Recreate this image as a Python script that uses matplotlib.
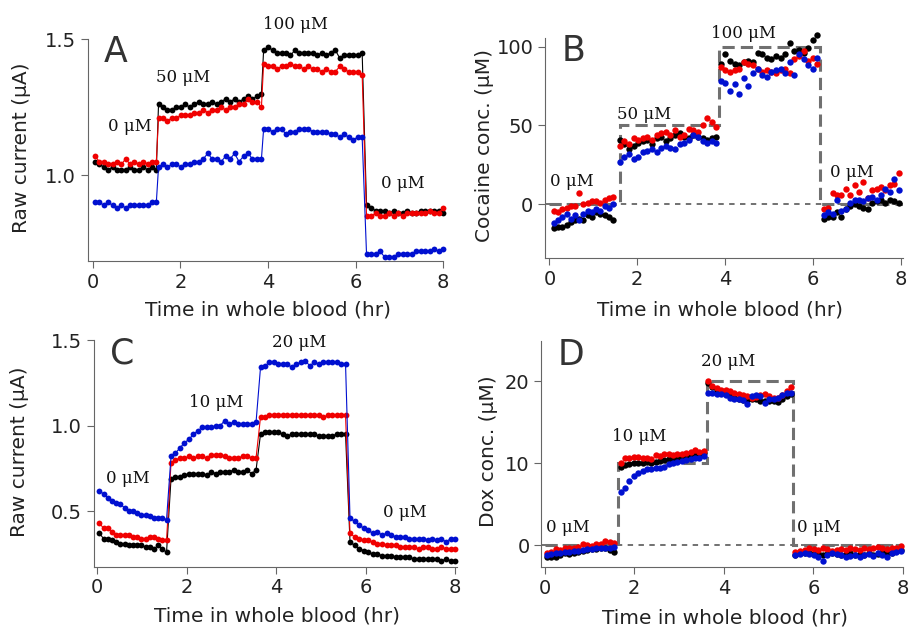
import numpy as np
import matplotlib.pyplot as plt

# ---- Panel A: raw current, cocaine sensor (uA) ----
a_segments = [(0.05, 1.45), (1.5, 3.85), (3.9, 6.15), (6.25, 8.0)]
a_black = [
    [1.05, 1.04, 1.03, 1.02, 1.03, 1.02, 1.02, 1.02, 1.03, 1.02, 1.02, 1.03, 1.02, 1.03, 1.02],
    [1.26, 1.25, 1.24, 1.24, 1.25, 1.25, 1.26, 1.25, 1.26, 1.27, 1.26, 1.26, 1.27, 1.26, 1.27, 1.28,
     1.27, 1.28, 1.27, 1.28, 1.29, 1.28, 1.29, 1.30],
    [1.46, 1.47, 1.46, 1.45, 1.45, 1.45, 1.44, 1.46, 1.45, 1.45, 1.45, 1.45, 1.44, 1.45, 1.44, 1.45,
     1.46, 1.43, 1.44, 1.44, 1.44, 1.44, 1.45],
    [0.89, 0.88, 0.87, 0.87, 0.87, 0.86, 0.87, 0.86, 0.86, 0.87, 0.86, 0.86, 0.87, 0.87, 0.87, 0.87,
     0.87, 0.86],
]
a_red = [
    [1.07, 1.05, 1.05, 1.04, 1.04, 1.05, 1.04, 1.06, 1.04, 1.05, 1.04, 1.05, 1.04, 1.05, 1.05],
    [1.21, 1.21, 1.20, 1.21, 1.21, 1.22, 1.22, 1.22, 1.23, 1.23, 1.24, 1.23, 1.24, 1.24, 1.25, 1.24,
     1.25, 1.25, 1.26, 1.26, 1.28, 1.27, 1.27, 1.25],
    [1.41, 1.40, 1.40, 1.39, 1.40, 1.40, 1.41, 1.40, 1.40, 1.39, 1.40, 1.39, 1.39, 1.38, 1.39, 1.38,
     1.38, 1.40, 1.39, 1.38, 1.38, 1.38, 1.37],
    [0.85, 0.85, 0.86, 0.85, 0.85, 0.86, 0.85, 0.86, 0.85, 0.86, 0.86, 0.86, 0.86, 0.86, 0.87, 0.86,
     0.86, 0.88],
]
a_blue = [
    [0.90, 0.90, 0.89, 0.90, 0.89, 0.88, 0.89, 0.88, 0.89, 0.89, 0.89, 0.89, 0.89, 0.90, 0.90],
    [1.03, 1.04, 1.03, 1.04, 1.04, 1.03, 1.04, 1.04, 1.05, 1.05, 1.06, 1.08, 1.06, 1.06, 1.05, 1.07,
     1.06, 1.08, 1.05, 1.07, 1.08, 1.06, 1.06, 1.06],
    [1.17, 1.17, 1.16, 1.17, 1.17, 1.15, 1.16, 1.16, 1.17, 1.17, 1.17, 1.16, 1.16, 1.16, 1.16, 1.15,
     1.15, 1.14, 1.15, 1.14, 1.13, 1.14, 1.14],
    [0.71, 0.71, 0.71, 0.72, 0.70, 0.70, 0.70, 0.71, 0.71, 0.71, 0.71, 0.72, 0.72, 0.72, 0.72, 0.73,
     0.72, 0.73],
]
a_labels = [(0.85, 1.18, '0 μM'), (2.06, 1.36, '50 μM'), (4.62, 1.555, '100 μM'), (7.08, 0.97, '0 μM')]

# ---- Panel B: cocaine concentration (uM) ----
b_segments = [(0.1, 1.45), (1.6, 3.8), (3.9, 6.1), (6.25, 7.95)]
b_black = [
    [-15, -14, -14, -13, -11, -10, -9, -10, -7, -8, -5, -6, -7, -8, -10],
    [41, 38, 35, 37, 39, 40, 41, 38, 42, 43, 40, 42, 44, 45, 43, 42, 44, 43, 42, 41, 42, 43],
    [89, 95, 91, 89, 88, 90, 91, 90, 96, 95, 93, 92, 94, 93, 95, 102, 97, 98, 96, 99, 104, 107],
    [-9, -8, -8, -5, -8, -3, -1, 0, -1, -2, -3, 1, 2, 3, 1, 3, 2, 1],
]
b_red = [
    [-4, -5, -3, -2, -1, -1, 7, 0, 1, 2, 2, 1, 3, 4, 5],
    [37, 40, 38, 42, 41, 42, 43, 41, 44, 45, 46, 44, 47, 43, 44, 48, 47, 46, 50, 55, 52, 49],
    [87, 85, 84, 85, 86, 90, 89, 88, 86, 84, 85, 84, 83, 85, 86, 83, 92, 94, 97, 91, 93, 89],
    [-3, -2, 7, 6, 6, 10, 6, 12, 8, 14, 4, 9, 10, 11, 9, 12, 13, 20],
]
b_blue = [
    [-12, -10, -8, -6, -9, -7, -10, -6, -4, -5, -3, -4, -1, -2, 0],
    [27, 30, 32, 29, 30, 33, 34, 35, 33, 36, 37, 36, 35, 38, 39, 41, 44, 43, 40, 39, 40, 39],
    [78, 77, 72, 76, 70, 80, 75, 83, 86, 82, 81, 84, 85, 86, 83, 90, 82, 95, 92, 88, 86, 93],
    [-7, -5, -6, 3, -4, -3, 1, 3, 3, 2, 4, 5, 3, 6, 10, 8, 16, 9],
]
b_edges = [0, 1.6, 3.85, 6.15, 8.05]
b_levels = [0, 50, 100, 0]
b_labels = [(0.51, 14.6, '0 μM'), (2.16, 56.8, '50 μM'), (4.43, 108.5, '100 μM'), (6.88, 20.5, '0 μM')]

# ---- Panel C: raw current, dox sensor (uA) ----
c_segments = [(0.05, 1.55), (1.65, 3.55), (3.65, 5.55), (5.65, 8.0)]
c_black = [
    [0.37, 0.34, 0.34, 0.33, 0.32, 0.31, 0.31, 0.30, 0.30, 0.30, 0.30, 0.29, 0.29, 0.28, 0.30, 0.28, 0.26],
    [0.69, 0.70, 0.70, 0.71, 0.72, 0.72, 0.72, 0.72, 0.71, 0.73, 0.72, 0.73, 0.73, 0.73, 0.74, 0.73,
     0.73, 0.74, 0.72, 0.74],
    [0.95, 0.96, 0.96, 0.96, 0.96, 0.95, 0.94, 0.95, 0.95, 0.95, 0.95, 0.95, 0.95, 0.94, 0.94, 0.94,
     0.94, 0.95, 0.95, 0.95],
    [0.32, 0.30, 0.28, 0.27, 0.26, 0.25, 0.25, 0.24, 0.24, 0.24, 0.23, 0.23, 0.23, 0.23, 0.22, 0.22,
     0.22, 0.22, 0.22, 0.22, 0.21, 0.22, 0.21, 0.21],
]
c_red = [
    [0.43, 0.40, 0.40, 0.38, 0.36, 0.36, 0.36, 0.36, 0.35, 0.35, 0.34, 0.34, 0.35, 0.35, 0.34, 0.33, 0.33],
    [0.78, 0.80, 0.81, 0.81, 0.82, 0.81, 0.82, 0.82, 0.81, 0.83, 0.83, 0.83, 0.82, 0.81, 0.81, 0.81,
     0.82, 0.82, 0.81, 0.81],
    [1.05, 1.05, 1.06, 1.06, 1.06, 1.06, 1.06, 1.06, 1.06, 1.06, 1.06, 1.06, 1.06, 1.06, 1.05, 1.06,
     1.06, 1.06, 1.06, 1.06],
    [0.37, 0.35, 0.34, 0.33, 0.33, 0.32, 0.31, 0.31, 0.30, 0.30, 0.30, 0.29, 0.29, 0.29, 0.29, 0.28,
     0.29, 0.29, 0.28, 0.28, 0.29, 0.28, 0.28, 0.28],
]
c_blue = [
    [0.62, 0.60, 0.58, 0.56, 0.55, 0.54, 0.52, 0.50, 0.50, 0.49, 0.48, 0.48, 0.47, 0.46, 0.46, 0.46, 0.45],
    [0.82, 0.84, 0.87, 0.90, 0.92, 0.95, 0.97, 0.99, 0.99, 0.99, 1.00, 1.00, 1.03, 1.01, 1.02, 1.01,
     1.01, 1.01, 1.01, 1.02],
    [1.34, 1.35, 1.37, 1.37, 1.36, 1.36, 1.36, 1.34, 1.36, 1.37, 1.38, 1.35, 1.37, 1.36, 1.37, 1.37,
     1.37, 1.37, 1.36, 1.36],
    [0.46, 0.44, 0.42, 0.40, 0.39, 0.37, 0.38, 0.36, 0.37, 0.36, 0.35, 0.35, 0.35, 0.34, 0.34, 0.34,
     0.34, 0.33, 0.34, 0.33, 0.34, 0.32, 0.34, 0.34],
]
c_labels = [(0.68, 0.693, '0 μM'), (2.66, 1.135, '10 μM'), (4.51, 1.486, '20 μM'), (6.87, 0.49, '0 μM')]

# ---- Panel D: dox concentration (uM) ----
d_segments = [(0.05, 1.55), (1.7, 3.55), (3.65, 5.5), (5.6, 7.95)]
d_black = [
    [-1.5, -1.4, -1.5, -1.2, -1.0, -1.1, -0.9, -0.8, -0.7, -0.6, -0.5, -0.5, -0.3, -0.4, -0.6, -0.8],
    [9.6, 9.8, 9.9, 10.0, 10.1, 10.0, 10.2, 10.1, 10.2, 10.3, 10.4, 10.5, 10.6, 10.6, 10.7, 10.8,
     10.9, 11.0, 11.0, 11.3],
    [19.8, 19.3, 19.0, 18.8, 18.5, 18.3, 18.0, 17.9, 17.7, 17.7, 17.8, 17.8, 17.6, 17.6, 17.6, 17.6,
     17.5, 17.8, 18.2, 18.5],
    [-1.2, -1.0, -0.9, -1.0, -1.1, -1.0, -1.2, -1.1, -1.0, -1.1, -1.2, -1.1, -1.0, -1.2, -1.1, -1.2,
     -1.0, -1.2, -1.1, -0.8, -1.0, -0.9, -0.7, -0.6],
]
d_red = [
    [-1.0, -0.8, -0.5, -0.6, -0.4, -0.4, -0.3, -0.2, 0.1, 0.0, -0.1, 0.1, 0.2, 0.5, 0.4, 0.3],
    [10.1, 10.7, 10.7, 10.8, 10.8, 10.7, 10.6, 10.5, 11.0, 10.9, 11.1, 11.1, 11.0, 11.2, 11.2, 11.3,
     11.4, 11.6, 11.4, 11.5],
    [20.1, 19.5, 19.2, 19.0, 19.0, 18.8, 18.6, 18.5, 18.3, 18.2, 18.0, 18.1, 18.3, 18.5, 18.2, 18.0,
     18.0, 18.3, 18.8, 19.3],
    [-0.8, -0.7, -0.6, -0.4, -0.5, -0.6, -0.4, -0.5, -0.7, -0.6, -0.5, -0.6, -0.4, -0.5, -0.6, -0.3,
     -0.5, -0.4, -0.2, -0.4, -0.5, -0.3, -0.4, -0.1],
]
d_blue = [
    [-1.2, -1.1, -1.0, -0.9, -0.8, -0.8, -0.7, -0.7, -0.6, -0.5, -0.5, -0.4, -0.3, -0.4, -0.3, -0.2],
    [6.5, 7.0, 7.8, 8.4, 8.8, 9.1, 9.3, 9.3, 9.4, 9.4, 9.6, 9.9, 10.1, 10.2, 10.3, 10.4, 10.5, 10.6,
     10.7, 10.9],
    [18.6, 18.6, 18.5, 18.5, 18.4, 18.0, 17.8, 17.9, 17.7, 17.2, 18.2, 18.3, 18.2, 17.4, 17.8, 17.9,
     18.0, 18.3, 18.6, 18.6],
    [-1.2, -1.1, -1.0, -1.1, -1.2, -1.5, -1.9, -1.2, -1.0, -1.1, -1.2, -1.4, -1.3, -1.2, -1.4, -1.2,
     -1.1, -1.3, -1.0, -1.2, -1.5, -1.0, -0.8, -0.7],
]
d_edges = [0, 1.65, 3.62, 5.55, 8.0]
d_levels = [0, 10, 20, 0]
d_labels = [(0.52, 2.2, '0 μM'), (2.12, 13.3, '10 μM'), (4.1, 22.4, '20 μM'), (6.12, 2.2, '0 μM')]

colors = ['black', '#f00000', '#0010d0']
grey = '#666666'


def series(segments, values):
    t = np.concatenate([np.linspace(s, e, len(v)) for (s, e), v in zip(segments, values)])
    return t, np.concatenate(values)


def style(ax, xlim, ylim, yticks, ylabel, letter, lab_xy, xl_xy):
    ax.set_xlim(*xlim)
    ax.set_ylim(*ylim)
    ax.set_xticks([0, 2, 4, 6, 8])
    ax.set_yticks(yticks)
    for s in ['top', 'right']:
        ax.spines[s].set_visible(False)
    for s in ['left', 'bottom']:
        ax.spines[s].set_color(grey)
    ax.tick_params(direction='out', length=5, color=grey, labelsize=14, labelcolor='#222222')
    ax.set_ylabel(ylabel, fontsize=14.5, color='#222222', va='center')
    ax.set_xlabel('Time in whole blood (hr)', fontsize=14.5, color='#222222', va='center')
    ax.yaxis.set_label_coords(*lab_xy)
    ax.xaxis.set_label_coords(*xl_xy)
    ax.text(0.045, 0.94, letter, transform=ax.transAxes, fontsize=25, color='#333333',
            va='center', ha='left')


def annotate(ax, labels):
    for x, y, s in labels:
        ax.text(x, y, s, fontsize=12, ha='center', va='center', color='#111111',
                family='DejaVu Serif', clip_on=False)


fig = plt.figure(figsize=(9.13, 6.31), dpi=100)
axA = fig.add_axes([0.0964, 0.586, 0.389, 0.352])
axB = fig.add_axes([0.597, 0.591, 0.392, 0.349])
axC = fig.add_axes([0.103, 0.102, 0.398, 0.359])
axD = fig.add_axes([0.593, 0.101, 0.396, 0.358])

# raw current panels: dots joined by thin lines
for ax, segs, data in [(axA, a_segments, [a_black, a_red, a_blue]),
                       (axC, c_segments, [c_black, c_red, c_blue])]:
    for vals, c in zip(data, colors):
        t, y = series(segs, vals)
        ax.plot(t, y, '-o', color=c, lw=0.8, ms=4.2, mec='none', clip_on=False)

# concentration panels: step protocol + dots
for ax, segs, data, edges, levels in [(axB, b_segments, [b_black, b_red, b_blue], b_edges, b_levels),
                                      (axD, d_segments, [d_black, d_red, d_blue], d_edges, d_levels)]:
    ax.axhline(0, color=grey, lw=1.3, ls=(0, (3, 3)), zorder=1)
    ax.stairs(levels, edges, baseline=None, color='#707070', lw=2.2,
              linestyle=(0, (4, 2)), zorder=2)
    for vals, c in zip(data, colors):
        t, y = series(segs, vals)
        ax.plot(t, y, 'o', color=c, ms=4.6, mec='none', zorder=3, clip_on=False)

style(axA, (-0.11, 8.0), (0.684, 1.5), [1.0, 1.5], 'Raw current (μA)', 'A', (-0.186, 0.51), (0.506, -0.22))
style(axB, (-0.1, 8.05), (-34, 105.5), [0, 50, 100], 'Cocaine conc. (μM)', 'B', (-0.168, 0.51), (0.49, -0.236))
style(axC, (-0.07, 8.05), (0.176, 1.5), [0.5, 1.0, 1.5], 'Raw current (μA)', 'C', (-0.204, 0.507), (0.503, -0.22))
style(axD, (-0.07, 8.0), (-2.7, 24.9), [0, 10, 20], 'Dox conc. (μM)', 'D', (-0.146, 0.515), (0.508, -0.226))
axA.set_yticklabels(['1.0', '1.5'])
axC.set_yticklabels(['0.5', '1.0', '1.5'])

annotate(axA, a_labels)
annotate(axB, b_labels)
annotate(axC, c_labels)
annotate(axD, d_labels)

plt.savefig('out.png', dpi=100)
